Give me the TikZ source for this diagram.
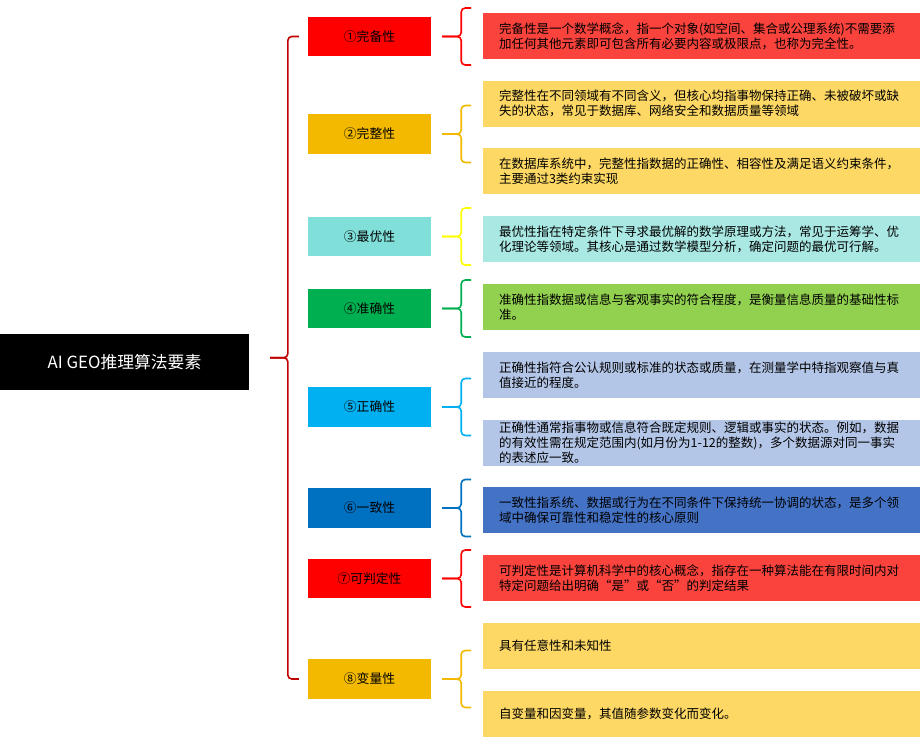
\documentclass[tikz,border=0pt]{standalone}
\usepackage{fontspec}
\setmainfont{Noto Sans CJK SC}
\usetikzlibrary{positioning, calc}

\definecolor{catred}{HTML}{FF0000}
\definecolor{catgold}{HTML}{F2B900}
\definecolor{catteal}{HTML}{80DFD9}
\definecolor{catgreen}{HTML}{00B050}
\definecolor{catsky}{HTML}{00B0F0}
\definecolor{catblue}{HTML}{0070C0}
\definecolor{descred}{HTML}{F9433C}
\definecolor{descgold}{HTML}{FDD864}
\definecolor{descteal}{HTML}{A9E8E3}
\definecolor{descgreen}{HTML}{92D050}
\definecolor{descsky}{HTML}{B4C6E7}
\definecolor{descblue}{HTML}{4472C4}
\definecolor{braceyellow}{HTML}{FFFF00}
\definecolor{mainred}{HTML}{C00000}

\begin{document}
\begin{tikzpicture}[x=1pt, y=-1pt,
                rootbox/.style={fill=black, text=white, minimum width=249pt, minimum height=56pt, inner sep=0pt, font=\fontsize{16.8}{20}\selectfont},
                catbox/.style={minimum width=123pt, minimum height=39.5pt, inner sep=0pt, font=\fontsize{12.8}{15}\selectfont},
                descbox/.style={text width=405pt, inner xsep=16pt, inner ysep=0.5pt, minimum height=46pt, align=left, font=\fontsize{12.5}{15}\selectfont},
                mainbrace/.style={draw=mainred, line width=1.6pt, rounded corners=4pt},
                subbrace/.style={line width=1.6pt, rounded corners=4pt}
            ]
            \useasboundingbox (0,0) rectangle (920,737);

            % Wurzel
            \node[rootbox] (root) at (124.5,362) {AI GEO推理算法要素};

            % Kategorien
            \node[catbox, fill=catred] (c1) at (369.5,36.5) {①完备性};
            \node[catbox, fill=catgold] (c2) at (369.5,134) {②完整性};
            \node[catbox, fill=catteal] (c3) at (369.5,236.5) {③最优性};
            \node[catbox, fill=catgreen] (c4) at (369.5,308.5) {④准确性};
            \node[catbox, fill=catsky] (c5) at (369.5,407) {⑤正确性};
            \node[catbox, fill=catblue] (c6) at (369.5,508) {⑥一致性};
            \node[catbox, fill=catred] (c7) at (369.5,578.5) {⑦可判定性};
            \node[catbox, fill=catgold] (c8) at (369.5,679) {⑧变量性};

            % Beschreibungen
            \node[descbox, fill=descred] (d1) at (701.5,36) {完备性是一个数学概念，指一个对象(如空间、集合或公理系统)不需要添\\加任何其他元素即可包含所有必要内容或极限点，也称为完全性。};
            \node[descbox, fill=descgold] (d2a) at (701.5,103.5) {完整性在不同领域有不同含义，但核心均指事物保持正确、未被破坏或缺\\失的状态，常见于数据库、网络安全和数据质量等领域};
            \node[descbox, fill=descgold] (d2b) at (701.5,171) {在数据库系统中，完整性指数据的正确性、相容性及满足语义约束条件，\\主要通过3类约束实现};
            \node[descbox, fill=descteal] (d3) at (701.5,239) {最优性指在特定条件下寻求最优解的数学原理或方法，常见于运筹学、优\\化理论等领域。其核心是通过数学模型分析，确定问题的最优可行解。};
            \node[descbox, fill=descgreen] (d4) at (701.5,307) {准确性指数据或信息与客观事实的符合程度，是衡量信息质量的基础性标\\准。};
            \node[descbox, fill=descsky] (d5a) at (701.5,375) {正确性指符合公认规则或标准的状态或质量，在测量学中特指观察值与真\\值接近的程度。};
            \node[descbox, fill=descsky] (d5b) at (701.5,443) {正确性通常指事物或信息符合既定规则、逻辑或事实的状态。例如，数据\\\mbox{的有效性需在规定范围内(如月份为1-12的整数)，多个数据源对同一事实}\\的表述应一致。};
            \node[descbox, fill=descblue] (d6) at (701.5,510) {一致性指系统、数据或行为在不同条件下保持统一协调的状态，是多个领\\域中确保可靠性和稳定性的核心原则};
            \node[descbox, fill=descred] (d7) at (701.5,578) {可判定性是计算机科学中的核心概念，指存在一种算法能在有限时间内对\\特定问题给出明确“是”或“否”的判定结果};
            \node[descbox, fill=descgold] (d8a) at (701.5,646) {具有任意性和未知性};
            \node[descbox, fill=descgold] (d8b) at (701.5,714) {自变量和因变量，其值随参数变化而变化。};

            % Hauptklammer
            \coordinate (mainbar) at ($(c1.west)!0.5!(c8.west)+(-20,0)$);
            \draw[mainbrace] ([xshift=-9pt]c1.west) -- ([xshift=-20pt]c1.west) -- (mainbar) -- ($(mainbar -| root.east)+(21,0)$);
            \draw[mainbrace] ([xshift=-9pt]c8.west) -- ([xshift=-20pt]c8.west) -- (mainbar) -- ($(mainbar -| root.east)+(21,0)$);

            % Unterklammern
            \foreach \n/\col in {1/catred, 2/catgold, 3/braceyellow, 4/catgreen, 5/catsky, 6/catblue, 7/catred, 8/catgold} {
                \draw[subbrace, draw=\col] ([xshift=40pt,yshift=28.5pt]c\n.east) -- ([xshift=30pt,yshift=28.5pt]c\n.east) -- ([xshift=30pt]c\n.east) -- ([xshift=11pt]c\n.east);
                \draw[subbrace, draw=\col] ([xshift=40pt,yshift=-28.5pt]c\n.east) -- ([xshift=30pt,yshift=-28.5pt]c\n.east) -- ([xshift=30pt]c\n.east) -- ([xshift=11pt]c\n.east);
            }

        \end{tikzpicture}
\end{document}
